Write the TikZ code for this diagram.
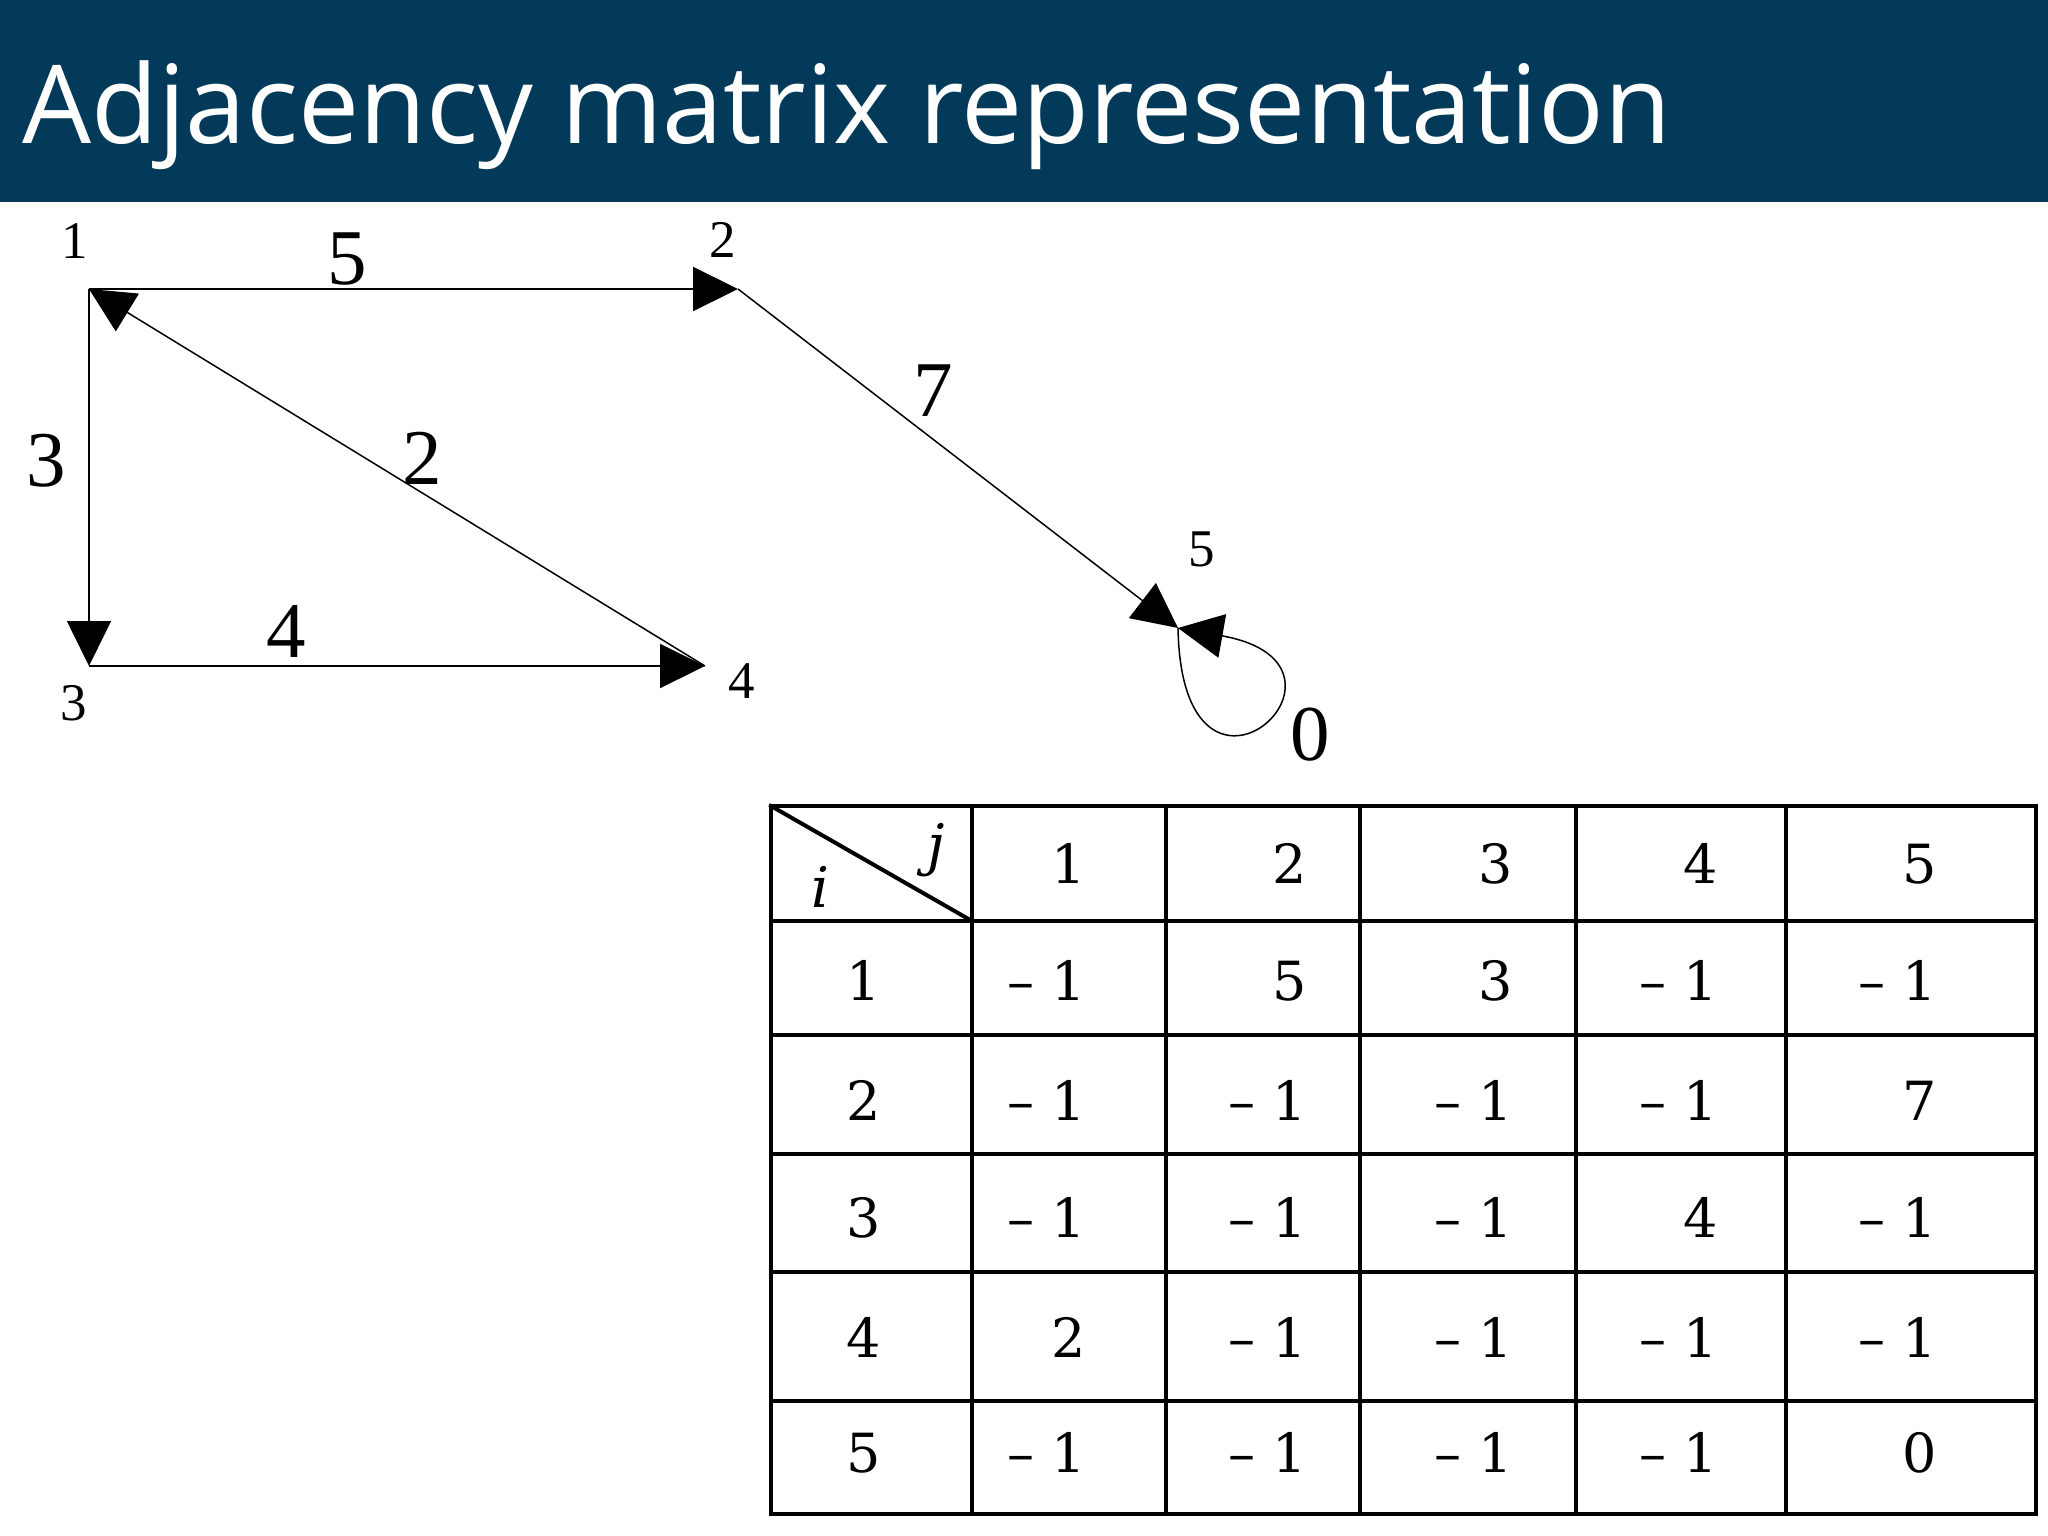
\documentclass[tikz,border=0pt]{standalone}
\usepackage{fontspec}
\newfontfamily\titlefont{Open Sans}
\newfontfamily\graphfont{Liberation Serif}
\newfontfamily\tabfont{DejaVu Serif}
\usetikzlibrary{arrows.meta}
\definecolor{titlebg}{RGB}{4,58,89}
\tikzset{
  edge/.style={line width=1.5pt, -{Triangle[length=45pt,width=44pt]}},
  thickedge/.style={edge, line width=2.2pt},
  vlabel/.style={font=\graphfont\fontsize{53}{60}\selectfont, anchor=base, inner sep=0pt},
  elabel/.style={font=\graphfont\fontsize{79}{90}\selectfont, anchor=base, inner sep=0pt},
  gridline/.style={line width=4pt, line cap=rect},
  cell/.style={font=\tabfont\fontsize{54}{62}\selectfont, anchor=base east, inner sep=0pt},
  idx/.style={font=\tabfont\itshape\fontsize{56}{62}\selectfont, anchor=base, inner sep=0pt},
}
\begin{document}
\begin{tikzpicture}[x=1pt,y=-1pt]
\useasboundingbox (0,0) rectangle (2048,1536);
\fill[white] (0,0) rectangle (2048,1536);
% title bar
\fill[titlebg] (0,0) rectangle (2048,202);
\node[anchor=base west, inner sep=0pt, text=white, font=\titlefont\fontsize{109}{120}\selectfont] (title) at (22,144) {Adjacency matrix representation};

% graph vertices
\coordinate (n1) at (89,289);
\coordinate (n2) at (738,289);
\coordinate (n3) at (89,666);
\coordinate (n4) at (705,666);
\coordinate (n5) at (1178,628);

\node[vlabel] (l1) at (75,258) {1};
\node[vlabel] (l2) at (723,257) {2};
\node[vlabel] (l3) at (74,720) {3};
\node[vlabel] (l4) at (742,698) {4};
\node[vlabel] (l5) at (1202,566) {5};

% edges
\draw[thickedge] (n1) -- (n2);
\draw[edge] (n1) -- (n3);
\draw[thickedge] (n3) -- (n4);
\draw[edge] (n4) -- (n1);
\draw[edge] (n2) -- (n5);
\draw[edge] (n5) .. controls (1182,850) and (1385,665) .. (n5);

% edge weights
\node[elabel] (w12) at (347,284) {5};
\node[elabel] (w13) at (46,486) {3};
\node[elabel] (w41) at (422,484) {2};
\node[elabel] (w34) at (286,657) {4};
\node[elabel] (w25) at (933,416) {7};
\node[elabel] (w55) at (1310,760) {0};

% table grid
\draw[gridline] (771,806) rectangle (2036,1514);
\foreach \x in {972,1166,1360,1576,1786} \draw[gridline] (\x,806) -- (\x,1514);
\foreach \y in {921,1035,1154,1272,1401} \draw[gridline] (771,\y) -- (2036,\y);
\draw[gridline] (771,806) -- (972,921);
\node[idx] (ii) at (820,907) {i};
\node[idx] (jj) at (936,864) {j};

% header row
\foreach \c/\x in {1/1069,2/1290,3/1496,4/1701,5/1920}
  \node[cell] (h\c) at (\x+17,883) {\c};

% row labels and values
\foreach \r/\y/\a/\b/\cc/\d/\e in {
   1/1000/{\textendash\ 1}/5/3/{\textendash\ 1}/{\textendash\ 1},
   2/1120/{\textendash\ 1}/{\textendash\ 1}/{\textendash\ 1}/{\textendash\ 1}/7,
   3/1237/{\textendash\ 1}/{\textendash\ 1}/{\textendash\ 1}/4/{\textendash\ 1},
   4/1357/2/{\textendash\ 1}/{\textendash\ 1}/{\textendash\ 1}/{\textendash\ 1},
   5/1472/{\textendash\ 1}/{\textendash\ 1}/{\textendash\ 1}/{\textendash\ 1}/0}{
  \node[cell] (r\r) at (881,\y) {\r};
  \node[cell] (m\r a) at (1086,\y) {\a};
  \node[cell] (m\r b) at (1307,\y) {\b};
  \node[cell] (m\r c) at (1513,\y) {\cc};
  \node[cell] (m\r d) at (1718,\y) {\d};
  \node[cell] (m\r e) at (1937,\y) {\e};
}
\end{tikzpicture}
\end{document}
